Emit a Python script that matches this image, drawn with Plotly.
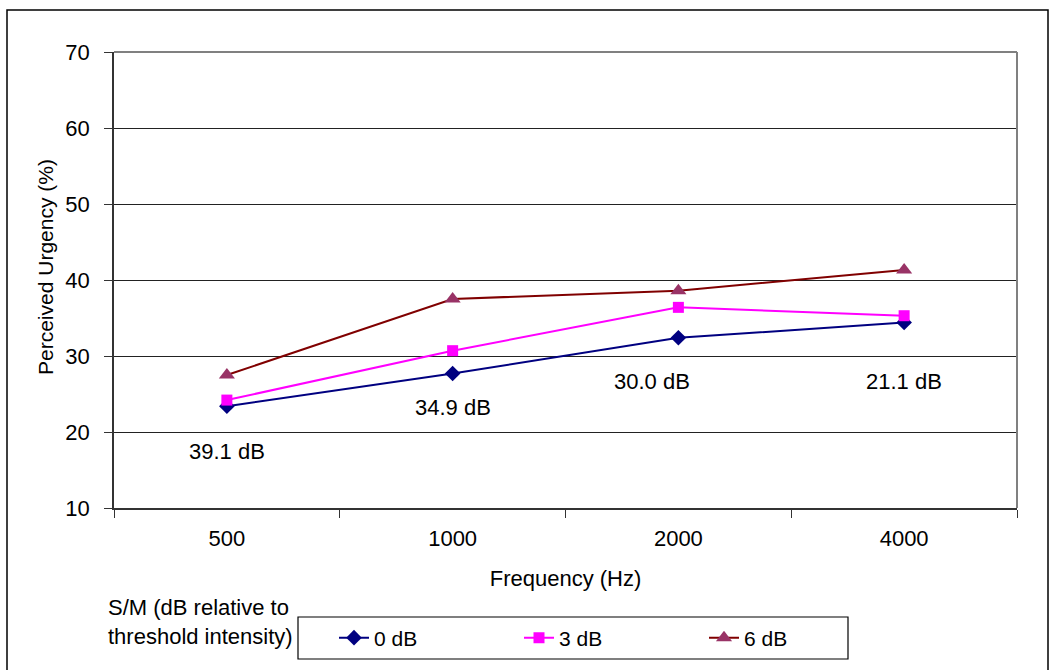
import plotly.graph_objects as go

# Frequencies tested and perceived urgency (%) for each S/M level
frequencies = ["500", "1000", "2000", "4000"]
urgency_0db = [23.4, 27.7, 32.4, 34.4]
urgency_3db = [24.2, 30.7, 36.4, 35.3]
urgency_6db = [27.5, 37.5, 38.6, 41.3]

# Threshold intensity labels shown under each frequency
threshold_labels = ["39.1 dB", "34.9 dB", "30.0 dB", "21.1 dB"]
threshold_label_x = [0.0, 1.0, 1.885, 3.0]
threshold_label_y = [17.5, 23.2, 26.7, 26.7]

FONT = "Liberation Sans, Arial, sans-serif"
FS = 22

W, H = 1052, 670
L, R, T, B = 114, 35, 52, 162
PW, PH = W - L - R, H - T - B


def px_x(x):
    return (x - L) / PW


def px_y(y):
    return (H - B - y) / PH


fig = go.Figure()

series = [
    ("0 dB", urgency_0db, "#000080", "#000080", "diamond", 12),
    ("3 dB", urgency_3db, "#FF00FF", "#FF00FF", "square", 11),
    ("6 dB", urgency_6db, "#800000", "#993366", "triangle-up", 14),
]
for name, vals, lcol, mcol, sym, size in series:
    fig.add_trace(go.Scatter(
        x=frequencies, y=vals, name=name, mode="lines+markers",
        line=dict(color=lcol, width=2),
        marker=dict(symbol=sym, size=size, color=mcol, line=dict(width=0)),
    ))

for txt, xv, yv in zip(threshold_labels, threshold_label_x, threshold_label_y):
    fig.add_annotation(x=xv, y=yv, xref="x", yref="y", text=txt, showarrow=False,
                       font=dict(family=FONT, size=FS, color="black"))

# Vertical axis title
fig.add_annotation(x=px_x(45), y=px_y(267), xref="paper", yref="paper",
                   text="Perceived Urgency (%)", textangle=-90, showarrow=False,
                   xanchor="center", yanchor="middle",
                   font=dict(family=FONT, size=21, color="black"))

# Legend title to the left of the legend box
fig.add_annotation(x=px_x(106), y=px_y(622), xref="paper", yref="paper",
                   xanchor="left", yanchor="middle", align="left", showarrow=False,
                   text="S/M (dB relative to<br>threshold intensity)",
                   font=dict(family=FONT, size=FS, color="black"))

shapes = [
    # outer chart border
    dict(type="rect", xref="paper", yref="paper",
         x0=px_x(7), x1=px_x(1048), y0=px_y(700), y1=px_y(10),
         line=dict(color="black", width=1.5)),
    # legend box
    dict(type="rect", xref="paper", yref="paper",
         x0=px_x(298), x1=px_x(848), y0=px_y(659), y1=px_y(617),
         line=dict(color="black", width=1.2)),
    # top and right plot-area border in gray
    dict(type="line", xref="paper", yref="paper", x0=0, x1=1, y0=1, y1=1,
         line=dict(color="#808080", width=2)),
    dict(type="line", xref="paper", yref="paper", x0=1, x1=1, y0=0, y1=1,
         line=dict(color="#808080", width=2)),
]

fig.update_layout(
    width=W, height=H,
    margin=dict(l=L, r=R, t=T, b=B),
    paper_bgcolor="white", plot_bgcolor="white",
    font=dict(family=FONT, size=FS, color="black"),
    shapes=shapes,
    showlegend=True,
    legend=dict(orientation="h", x=px_x(334), y=px_y(638), xanchor="left", yanchor="middle",
                bgcolor="rgba(0,0,0,0)", borderwidth=0,
                entrywidth=140, entrywidthmode="pixels",
                font=dict(family=FONT, size=21, color="black")),
    xaxis=dict(
        type="category", range=[-0.5, 3.5], tickson="boundaries",
        ticks="outside", ticklen=8, tickcolor="#333", tickwidth=1,
        ticklabelstandoff=10,
        showline=True, linecolor="#333", linewidth=1.5,
        showgrid=False, zeroline=False,
        title=dict(text="Frequency (Hz)", standoff=20, font=dict(size=FS)),
        tickfont=dict(size=FS),
    ),
    yaxis=dict(
        range=[10, 70], dtick=10, tick0=10,
        ticks="outside", ticklen=8, tickcolor="#333", tickwidth=1,
        ticklabelstandoff=10,
        showline=True, linecolor="#333", linewidth=1.5,
        showgrid=True, gridcolor="#222", gridwidth=1,
        zeroline=False,
        tickfont=dict(size=FS),
    ),
)

fig.write_html("out.html")
